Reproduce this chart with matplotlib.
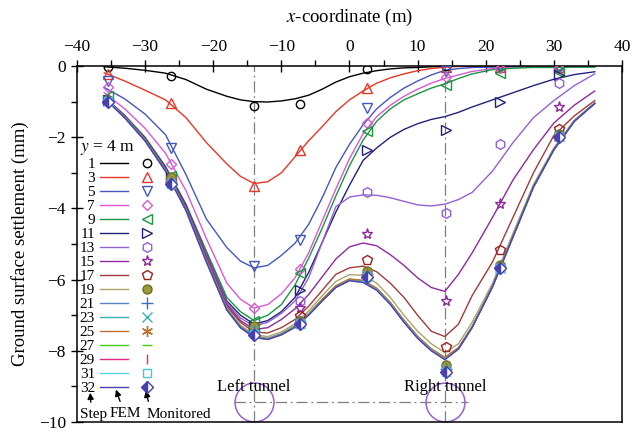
import matplotlib
matplotlib.use("Agg")
import matplotlib.pyplot as plt
from matplotlib.ticker import MultipleLocator

plt.rcParams['font.family'] = ['Liberation Serif', 'DejaVu Serif']
plt.rcParams['mathtext.fontset'] = 'stix'

# x positions of FEM curve samples (m)
x_fem = [-36, -33, -30, -27, -24, -21, -18, -16, -14, -12, -10, -8, -6, -4, -2, 0,
         2, 4, 6, 8, 10, 12, 14, 16, 18, 21, 24, 27, 30, 33, 36]

fem_1 = [-0.02, -0.06, -0.12, -0.2, -0.38, -0.65, -0.85, -0.95, -1.0, -1.01, -0.98, -0.92, -0.82, -0.65, -0.45, -0.3,
         -0.2, -0.13, -0.08, -0.05, -0.04, -0.02, -0.01, 0, 0, 0, 0, 0, 0, 0, 0]
fem_3 = [-0.19, -0.42, -0.68, -0.95, -1.45, -2.15, -2.75, -3.1, -3.3, -3.25, -3.0, -2.55, -2.1, -1.7, -1.28, -0.95,
         -0.7, -0.48, -0.33, -0.22, -0.13, -0.07, -0.03, -0.01, 0, 0, 0, 0, 0, 0, 0]
fem_5 = [-0.6, -0.92, -1.35, -1.93, -3.05, -4.3, -5.1, -5.48, -5.67, -5.6, -5.32, -4.98, -4.45, -3.7, -2.85, -2.2,
         -1.65, -1.2, -0.88, -0.62, -0.42, -0.25, -0.12, -0.07, -0.04, -0.03, -0.02, -0.02, -0.01, -0.01, -0.01]
fem_7 = [-0.75, -1.2, -1.75, -2.45, -3.5, -4.85, -6.1, -6.55, -6.8, -6.7, -6.4, -5.95, -5.25, -4.35, -3.45, -2.6,
         -1.9, -1.42, -1.1, -0.85, -0.65, -0.48, -0.35, -0.25, -0.15, -0.07, -0.04, -0.03, -0.02, -0.02, -0.02]
fem_9 = [-0.86, -1.38, -2.0, -2.82, -3.88, -5.2, -6.5, -6.9, -7.15, -7.0, -6.7, -6.15, -5.4, -4.55, -3.65, -2.8,
         -2.08, -1.55, -1.2, -0.95, -0.78, -0.62, -0.5, -0.35, -0.22, -0.1, -0.06, -0.04, -0.04, -0.03, -0.03]
fem_11 = [-0.87, -1.4, -2.03, -2.85, -3.92, -5.28, -6.6, -7.0, -7.25, -7.15, -6.9, -6.5, -5.8, -4.95, -4.1, -3.35,
          -2.65, -2.3, -2.0, -1.78, -1.62, -1.5, -1.42, -1.3, -1.15, -0.95, -0.75, -0.55, -0.37, -0.24, -0.16]
fem_13 = [-0.87, -1.4, -2.05, -2.88, -3.95, -5.3, -6.65, -7.08, -7.3, -7.2, -6.95, -6.6, -5.95, -4.95, -3.95, -3.68,
          -3.62, -3.63, -3.7, -3.8, -3.9, -3.93, -3.88, -3.75, -3.55, -2.95, -2.15, -1.45, -0.97, -0.55, -0.22]
fem_15 = [-0.87, -1.4, -2.05, -2.88, -3.95, -5.35, -6.7, -7.15, -7.4, -7.35, -7.12, -6.82, -6.42, -5.92, -5.42, -5.08,
          -4.97, -5.05, -5.3, -5.6, -5.95, -6.22, -6.33, -5.85, -5.25, -4.25, -3.2, -2.35, -1.6, -1.1, -0.7]
fem_17 = [-0.88, -1.42, -2.05, -2.9, -4.0, -5.4, -6.75, -7.2, -7.47, -7.5, -7.35, -7.12, -6.75, -6.3, -5.85, -5.67,
          -5.62, -5.78, -6.1, -6.5, -7.0, -7.45, -7.6, -7.25, -6.45, -5.5, -4.25, -3.0, -1.95, -1.4, -0.97]
fem_19 = [-0.88, -1.43, -2.07, -2.92, -4.02, -5.45, -6.8, -7.28, -7.55, -7.6, -7.47, -7.24, -6.88, -6.45, -6.05, -5.86,
          -5.88, -6.1, -6.5, -7.0, -7.45, -7.8, -8.05, -7.8, -7.2, -6.1, -4.7, -3.33, -2.3, -1.52, -1.03]
fem_21 = [-0.89, -1.44, -2.09, -2.94, -4.04, -5.48, -6.83, -7.32, -7.59, -7.65, -7.52, -7.3, -6.96, -6.56, -6.18, -5.99,
          -6.03, -6.25, -6.65, -7.15, -7.6, -7.95, -8.2, -7.92, -7.32, -6.18, -4.78, -3.39, -2.34, -1.55, -1.05]
fem_23 = [-0.89, -1.44, -2.09, -2.94, -4.04, -5.49, -6.84, -7.33, -7.6, -7.66, -7.53, -7.31, -6.97, -6.57, -6.19, -6.0,
          -6.04, -6.26, -6.66, -7.16, -7.61, -7.96, -8.21, -7.93, -7.33, -6.19, -4.79, -3.4, -2.35, -1.55, -1.05]
fem_25 = [-0.9, -1.45, -2.1, -2.95, -4.05, -5.49, -6.84, -7.33, -7.6, -7.66, -7.53, -7.3, -6.96, -6.55, -6.17, -5.98,
          -6.02, -6.24, -6.64, -7.14, -7.59, -7.94, -8.18, -7.91, -7.32, -6.19, -4.79, -3.4, -2.35, -1.55, -1.05]
fem_27 = [-0.9, -1.45, -2.1, -2.95, -4.05, -5.5, -6.85, -7.34, -7.61, -7.67, -7.54, -7.32, -6.98, -6.58, -6.2, -6.01,
          -6.05, -6.27, -6.67, -7.17, -7.62, -7.97, -8.22, -7.94, -7.34, -6.2, -4.8, -3.4, -2.35, -1.55, -1.05]
fem_29 = [-0.9, -1.45, -2.1, -2.95, -4.05, -5.5, -6.85, -7.35, -7.62, -7.68, -7.55, -7.33, -6.99, -6.59, -6.21, -6.02,
          -6.06, -6.28, -6.68, -7.18, -7.63, -7.98, -8.23, -7.94, -7.34, -6.2, -4.8, -3.4, -2.35, -1.55, -1.05]
fem_31 = [-0.9, -1.45, -2.1, -2.95, -4.05, -5.5, -6.85, -7.35, -7.62, -7.68, -7.55, -7.33, -6.99, -6.6, -6.22, -6.03,
          -6.07, -6.29, -6.69, -7.19, -7.64, -7.99, -8.24, -7.95, -7.35, -6.2, -4.8, -3.4, -2.35, -1.55, -1.05]
fem_32 = [-0.9, -1.45, -2.1, -2.95, -4.05, -5.5, -6.85, -7.35, -7.62, -7.68, -7.55, -7.34, -7.0, -6.6, -6.22, -6.03,
          -6.08, -6.3, -6.7, -7.2, -7.65, -8.0, -8.25, -7.95, -7.35, -6.2, -4.8, -3.4, -2.35, -1.55, -1.05]

# monitored points
x_mon = [-35.5, -26.2, -14, -7.2, 2.6, 14.2, 22.1, 30.7]

mon_1 = [-0.03, -0.28, -1.13, -1.07, -0.08, 0.0, 0.0, 0.0]
mon_3 = [-0.22, -1.04, -3.38, -2.35, -0.63, -0.03, -0.02, -0.02]
mon_5 = [-0.42, -2.29, -5.62, -4.9, -1.19, -0.15, -0.06, -0.05]
mon_7 = [-0.58, -2.75, -6.8, -5.7, -1.6, -0.3, -0.05, -0.05]
mon_9 = [-0.85, -3.1, -7.15, -5.8, -1.83, -0.54, -0.2, -0.17]
mon_11 = [-0.95, -3.15, -7.3, -6.3, -2.35, -1.8, -1.02, -0.25]
mon_13 = [-0.95, -3.2, -7.35, -6.6, -3.53, -4.12, -2.18, -0.47]
mon_15 = [-0.95, -3.2, -7.4, -6.8, -4.72, -6.6, -3.87, -1.15]
mon_17 = [-0.95, -3.2, -7.45, -7.03, -5.46, -7.9, -5.17, -1.78]
mon_19 = [-0.95, -3.13, -7.3, -7.17, -5.76, -8.4, -5.6, -1.9]
mon_21 = [-0.97, -3.25, -7.45, -7.2, -5.85, -8.5, -5.65, -1.95]
mon_23 = [-0.98, -3.25, -7.45, -7.22, -5.88, -8.5, -5.68, -1.97]
mon_25 = [-0.98, -3.27, -7.5, -7.22, -5.88, -8.55, -5.68, -1.98]
mon_27 = [-0.98, -3.27, -7.5, -7.23, -5.9, -8.55, -5.68, -1.98]
mon_29 = [-0.99, -3.28, -7.5, -7.24, -5.9, -8.58, -5.68, -1.99]
mon_31 = [-0.99, -3.3, -7.52, -7.25, -5.92, -8.6, -5.68, -2.0]
mon_32 = [-1.0, -3.3, -7.55, -7.25, -5.93, -8.6, -5.68, -2.0]

steps = [1, 3, 5, 7, 9, 11, 13, 15, 17, 19, 21, 23, 25, 27, 29, 31, 32]
fem_all = [fem_1, fem_3, fem_5, fem_7, fem_9, fem_11, fem_13, fem_15, fem_17,
           fem_19, fem_21, fem_23, fem_25, fem_27, fem_29, fem_31, fem_32]
mon_all = [mon_1, mon_3, mon_5, mon_7, mon_9, mon_11, mon_13, mon_15, mon_17,
           mon_19, mon_21, mon_23, mon_25, mon_27, mon_29, mon_31, mon_32]

tunnel_x = [-14, 14]
tunnel_y = -9.43

line_colors = ['#000000', '#e8352a', '#4457bd', '#d65ad3', '#1a9641', '#22227a', '#9560d6',
               '#8c2a9c', '#a03a3a', '#aaa466', '#5a86c4', '#3fb0b0', '#c0702e', '#4cc81e',
               '#e0288c', '#55d5e5', '#4a3fb0']
marker_colors = ['#000000', '#e8352a', '#4457bd', '#d65ad3', '#1a9641', '#22227a', '#9560d6',
                 '#8c2a9c', '#9c2020', '#8a8a2a', '#3f6fb8', '#3fb0b0', '#c0702e', '#4cc81e',
                 '#e0288c', '#40c8e0', '#4a3fb0']
markers = ['o', '^', 'v', 'D', '<', '>', 'h', '*', 'p', 'o', '+', 'x', (6, 2, 0), '_', '|', 's', 'D']
msizes = [6, 7, 7, 5.5, 7, 7, 7, 8, 7, 6.5, 8, 7, 8, 7, 7, 5.5, 6]

fig = plt.figure(figsize=(6.33, 4.32), dpi=100)
ax = fig.add_axes([0.1216, 0.0231, 0.861, 0.824])

line_handles = []
marker_handles = []
for i, s in enumerate(steps):
    ln, = ax.plot(x_fem, fem_all[i], color=line_colors[i], lw=1.0, label=str(s), zorder=2)
    line_handles.append(ln)

for i, s in enumerate(steps):
    kw = dict(linestyle='none', marker=markers[i], ms=msizes[i], mew=1.0,
              color=marker_colors[i], label=' ', zorder=3)
    if s == 19:
        kw.update(mfc='#9a9a3a', mec='#6e6e20')
    elif s == 32:
        kw.update(fillstyle='left', mfc='#4a3fb0', mfcalt='white', mec='#4a3fb0')
    elif markers[i] not in ('+', 'x', '_', '|') and s != 25:
        kw.update(mfc='none')
    mk, = ax.plot(x_mon, mon_all[i], **kw)
    marker_handles.append(mk)

# tunnel centre lines and outlines
dashdot = (0, (9, 3, 1.5, 3))
for tx in tunnel_x:
    ax.axvline(tx, color='#7f7f7f', lw=0.9, linestyle=dashdot, zorder=1)
ax.hlines(tunnel_y, -17, 17.4, color='#7f7f7f', lw=0.9, linestyle=dashdot, zorder=1)
ax.plot(tunnel_x, [tunnel_y, tunnel_y], linestyle='none', marker='o', ms=28,
        mfc='none', mec='#9a5fd0', mew=1.1, zorder=2)
ax.text(-14, -9.03, 'Left tunnel', ha='center', va='center', fontsize=12)
ax.text(14, -9.03, 'Right tunnel', ha='center', va='center', fontsize=12)

ax.set_xlim(-40, 40)
ax.set_ylim(-10, 0)
ax.xaxis.tick_top()
ax.xaxis.set_label_position('top')
ax.xaxis.set_major_locator(MultipleLocator(10))
ax.xaxis.set_minor_locator(MultipleLocator(5))
ax.yaxis.set_major_locator(MultipleLocator(2))
ax.yaxis.set_minor_locator(MultipleLocator(1))
ax.tick_params(which='major', direction='inout', length=9, width=1, labelsize=12.5)
ax.tick_params(which='minor', direction='out', length=4.5, width=1)
ax.tick_params(axis='x', which='both', top=True, bottom=False)
ax.tick_params(axis='y', which='both', left=True, right=False)
for sp in ax.spines.values():
    sp.set_linewidth(1.1)

ax.set_xlabel(r'$x$-coordinate (m)', fontsize=13.5, labelpad=12)
ax.set_ylabel('Ground surface settlement (mm)', fontsize=13.5, labelpad=7)

leg = ax.legend(line_handles + marker_handles, [str(s) for s in steps] + [''] * len(steps),
                ncol=2, markerfirst=False, frameon=False, fontsize=11,
                title=r'$y$ = 4 m', title_fontsize=12.5, alignment='left',
                loc='upper left', bbox_to_anchor=(0.005, 0.798), borderpad=0,
                handlelength=1.8, handletextpad=0.35, columnspacing=0.0,
                labelspacing=0.02, borderaxespad=0)

ax.text(0.03, 0.022, 'Step', transform=ax.transAxes, ha='center', va='center', fontsize=11)
ax.text(0.088, 0.025, 'FEM', transform=ax.transAxes, ha='center', va='center', fontsize=11)
ax.text(0.127, 0.022, 'Monitored', transform=ax.transAxes, ha='left', va='center', fontsize=11)
arrow = dict(arrowstyle='-|>', color='k', lw=1.0, mutation_scale=9)
ax.annotate('', xy=(90, 42), xytext=(91, 27), xycoords='figure pixels', arrowprops=arrow)
ax.annotate('', xy=(115, 45), xytext=(121, 28), xycoords='figure pixels', arrowprops=arrow)
ax.annotate('', xy=(145, 44), xytext=(149, 28), xycoords='figure pixels', arrowprops=arrow)

fig.savefig('out.png', dpi=100)
